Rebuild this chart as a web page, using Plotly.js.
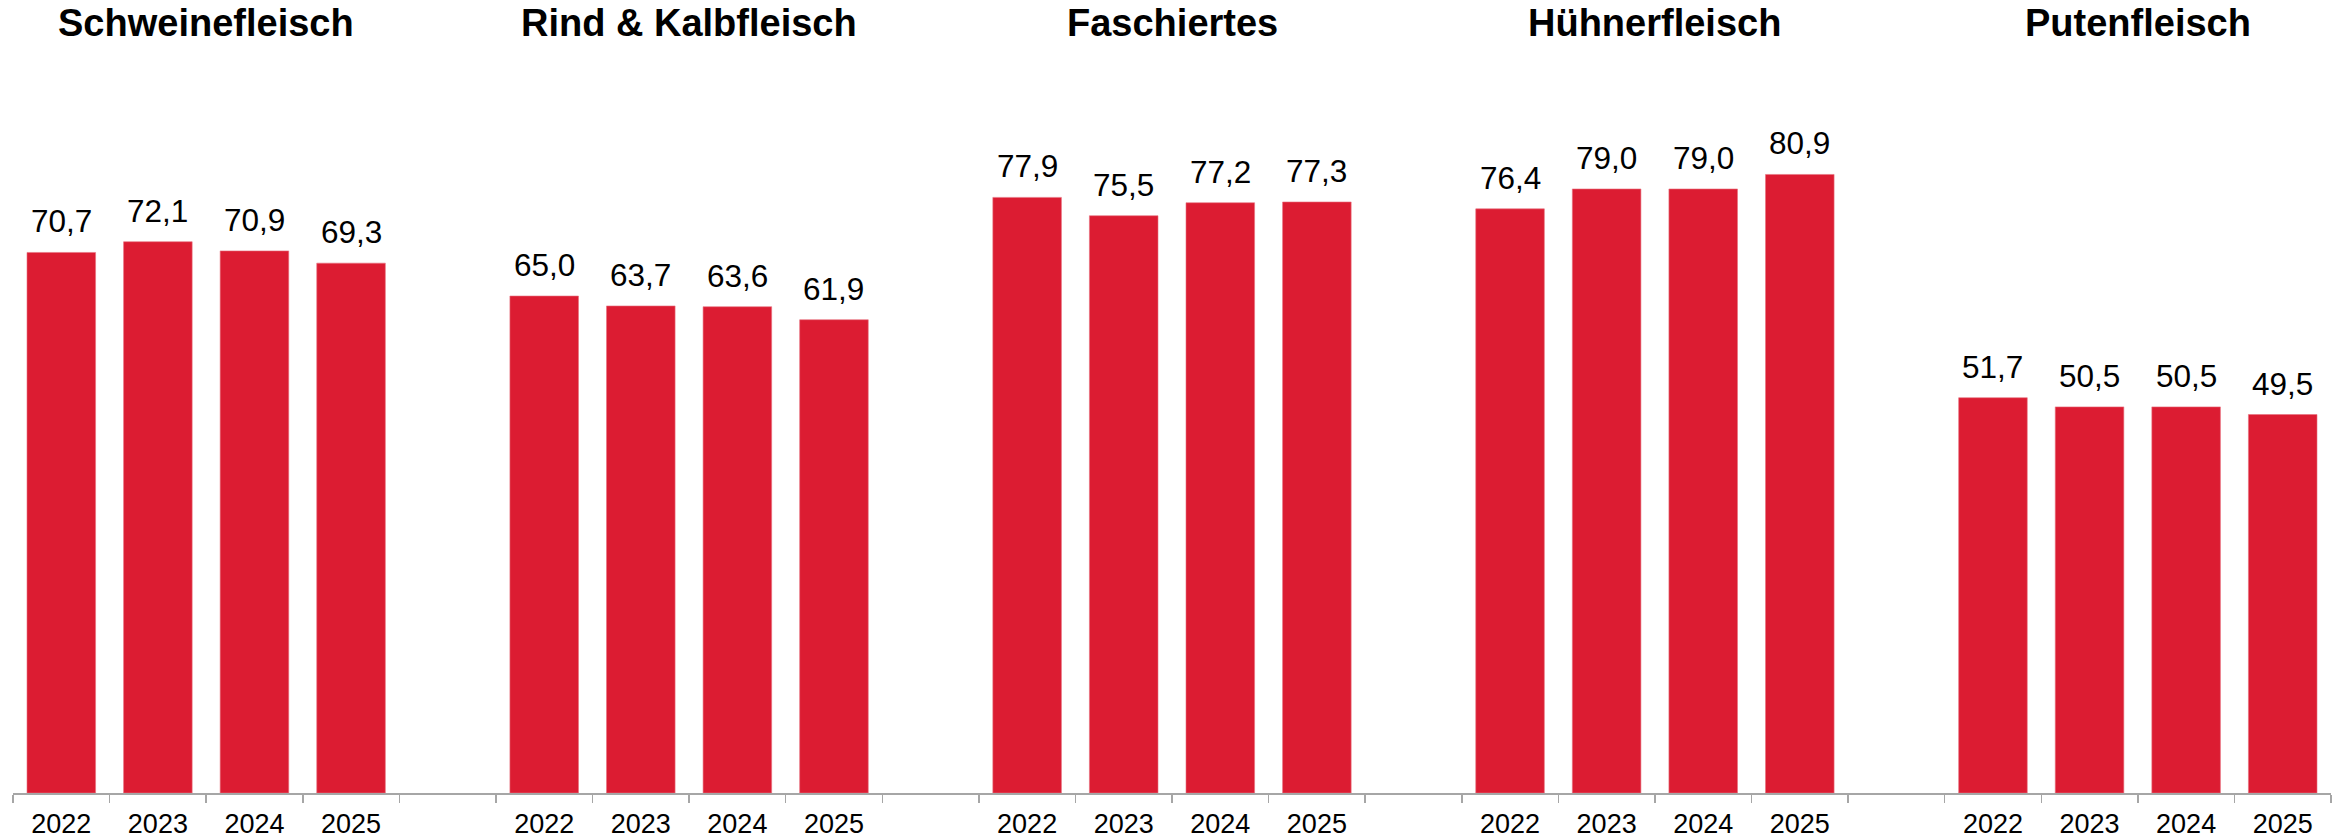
<!DOCTYPE html>
<html>
<head>
<meta charset="utf-8">
<script src="https://cdn.plot.ly/plotly-3.0.1.min.js"></script>
<style>html,body{margin:0;padding:0;background:#fff;}#chart{width:2341px;height:838px;}</style>
</head>
<body>
<div id="chart"></div>
<script>
// ---- data ----
const groups = ["Schweinefleisch", "Rind & Kalbfleisch", "Faschiertes", "Hühnerfleisch", "Putenfleisch"];
const years = ["2022", "2023", "2024", "2025"];
const schweinefleisch = [70.7, 72.1, 70.9, 69.3];
const rindKalbfleisch = [65.0, 63.7, 63.6, 61.9];
const faschiertes = [77.9, 75.5, 77.2, 77.3];
const huehnerfleisch = [76.4, 79.0, 79.0, 80.9];
const putenfleisch = [51.7, 50.5, 50.5, 49.5];
const seriesValues = [schweinefleisch, rindKalbfleisch, faschiertes, huehnerfleisch, putenfleisch];

// ---- build positions (one empty slot between groups) ----
const slotsPerGroup = years.length + 1;
const nSlots = groups.length * slotsPerGroup - 1;
const xs = [], ys = [], labels = [], tickPos = [], tickText = [];
seriesValues.forEach((vals, g) => {
  vals.forEach((v, i) => {
    const x = g * slotsPerGroup + i;
    xs.push(x); ys.push(v);
    labels.push(v.toFixed(1).replace('.', ','));
    tickPos.push(x); tickText.push(years[i]);
  });
});
const boundaries = [];
for (let k = 0; k <= nSlots; k++) boundaries.push(k - 0.5);
const xRange = [-0.5, nSlots - 0.5];

const FONT = "Liberation Sans, Arial, sans-serif";
const annotations = [];
xs.forEach((x, i) => {
  annotations.push({x: x, y: ys[i], xref: 'x', yref: 'y', text: labels[i], showarrow: false,
    yanchor: 'bottom', yshift: 11, font: {family: FONT, size: 31.5, color: '#000'}});
});
groups.forEach((name, g) => {
  annotations.push({x: g * slotsPerGroup + (years.length - 1) / 2, y: 1, xref: 'x', yref: 'paper',
    text: '<b>' + name + '</b>', showarrow: false, yanchor: 'middle', yshift: -3,
    font: {family: FONT, size: 38, color: '#000'}});
});

const bars = {
  type: 'bar', x: xs, y: ys, xaxis: 'x', yaxis: 'y',
  marker: {color: '#DC1C32', line: {color: '#E8707E', width: 0.6}},
  width: 0.71, hoverinfo: 'skip'
};
// empty helper trace so the boundary-tick axis is drawn
const boundaryAxisHolder = {type: 'scatter', x: [], y: [], xaxis: 'x2', yaxis: 'y', hoverinfo: 'skip', showlegend: false};

const layout = {
  width: 2341, height: 838,
  margin: {l: 13, r: 10, t: 20, b: 45},
  paper_bgcolor: '#fff', plot_bgcolor: '#fff',
  showlegend: false,
  font: {family: FONT, color: '#000'},
  xaxis: {
    range: xRange, tickmode: 'array', tickvals: tickPos, ticktext: tickText, ticks: '',
    showline: false, showgrid: false, zeroline: false, ticklabelstandoff: 12,
    tickfont: {family: FONT, size: 27, color: '#000'}
  },
  xaxis2: {
    overlaying: 'x', anchor: 'y', side: 'bottom', range: xRange,
    tickmode: 'array', tickvals: boundaries, showticklabels: false,
    ticks: 'outside', ticklen: 8, tickwidth: 1.5, tickcolor: '#a6a6a6',
    showline: true, linecolor: '#a6a6a6', linewidth: 1.5, showgrid: false, zeroline: false
  },
  yaxis: {range: [0, 101.1], visible: false, showgrid: false, zeroline: false},
  annotations: annotations,
  bargap: 0.29
};

Plotly.newPlot('chart', [bars, boundaryAxisHolder], layout, {displayModeBar: false, staticPlot: true});
</script>
</body>
</html>
